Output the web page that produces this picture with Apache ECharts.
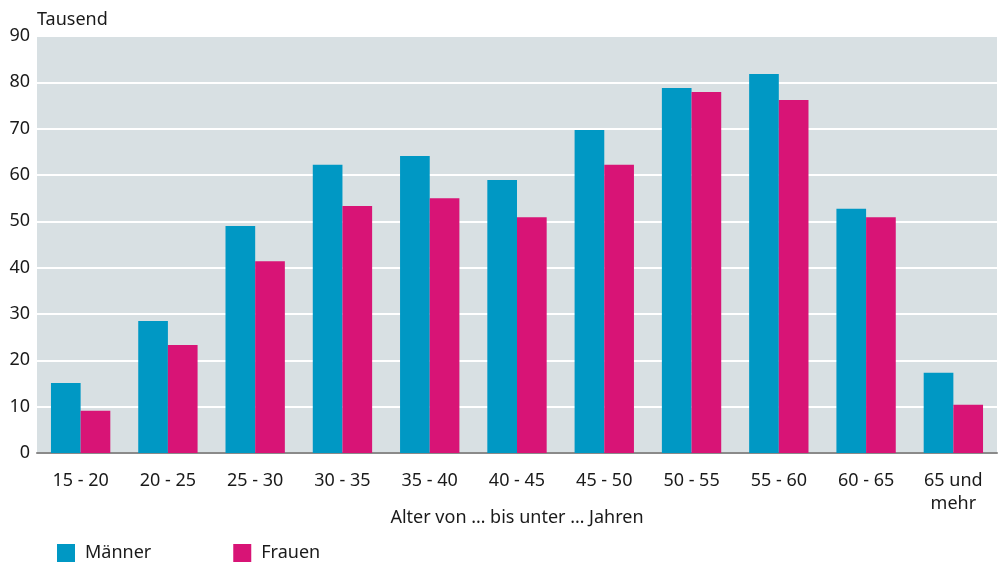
<!DOCTYPE html>
<html>
<head>
<meta charset="utf-8">
<script src="https://cdn.jsdelivr.net/npm/echarts@6/dist/echarts.min.js"></script>
<style>
  html, body { margin: 0; padding: 0; background: #fff; }
  #chart { width: 1004px; height: 562px; }
</style>
</head>
<body>
<div id="chart"></div>
<script>
// Altersgruppen (x-Achse)
const categories = ["15 - 20", "20 - 25", "25 - 30", "30 - 35", "35 - 40", "40 - 45",
  "45 - 50", "50 - 55", "55 - 60", "60 - 65", "65 und\nmehr"];
// Werte in Tausend
const maenner = [15.1, 28.5, 49.0, 62.2, 64.1, 58.9, 69.7, 78.8, 81.8, 52.7, 17.3];
const frauen = [9.1, 23.3, 41.4, 53.3, 55.0, 50.9, 62.2, 77.9, 76.2, 50.9, 10.4];
const yTicks = [0, 10, 20, 30, 40, 50, 60, 70, 80, 90];

const font = "Noto Sans";
const chart = echarts.init(document.getElementById("chart"));

chart.setOption({
  animation: false,
  textStyle: { fontFamily: font, color: "#1a1a1a" },
  grid: { left: 37, right: 7, top: 36, bottom: 109, backgroundColor: "#d8e0e3", show: true, borderWidth: 0 },
  legend: {
    left: 57,
    top: 544,
    padding: 0,
    itemWidth: 18,
    itemHeight: 18,
    itemGap: 82,
    icon: "rect",
    textStyle: { fontFamily: font, fontSize: 18, color: "#1a1a1a", padding: [0, 0, 0, 5] },
    data: ["Männer", "Frauen"]
  },
  xAxis: {
    type: "category",
    data: categories,
    name: "Alter von … bis unter … Jahren",
    nameLocation: "middle",
    nameMoveOverlap: false,
    nameGap: 65,
    nameTextStyle: { fontSize: 18, color: "#1a1a1a", verticalAlign: "middle" },
    axisLine: { lineStyle: { color: "#8a8a8a", width: 2 } },
    axisTick: { show: false },
    axisLabel: { fontSize: 18, color: "#1a1a1a", margin: 16, interval: 0, lineHeight: 23, verticalAlign: "top" }
  },
  yAxis: {
    type: "value",
    min: yTicks[0],
    max: yTicks[yTicks.length - 1],
    interval: 10,
    name: "Tausend",
    nameLocation: "end",
    nameGap: 7,
    nameTextStyle: { fontSize: 18, color: "#1a1a1a", align: "left" },
    axisLine: { show: false },
    axisTick: { show: false },
    axisLabel: { fontSize: 18, color: "#1a1a1a", margin: 7 },
    splitLine: { lineStyle: { color: "#ffffff", width: 2 } }
  },
  series: [
    {
      name: "Männer",
      type: "bar",
      data: maenner,
      barGap: "0%",
      barCategoryGap: "32%",
      itemStyle: { color: "#0098c4" }
    },
    {
      name: "Frauen",
      type: "bar",
      data: frauen,
      itemStyle: { color: "#d81476" }
    }
  ]
});
</script>
</body>
</html>
